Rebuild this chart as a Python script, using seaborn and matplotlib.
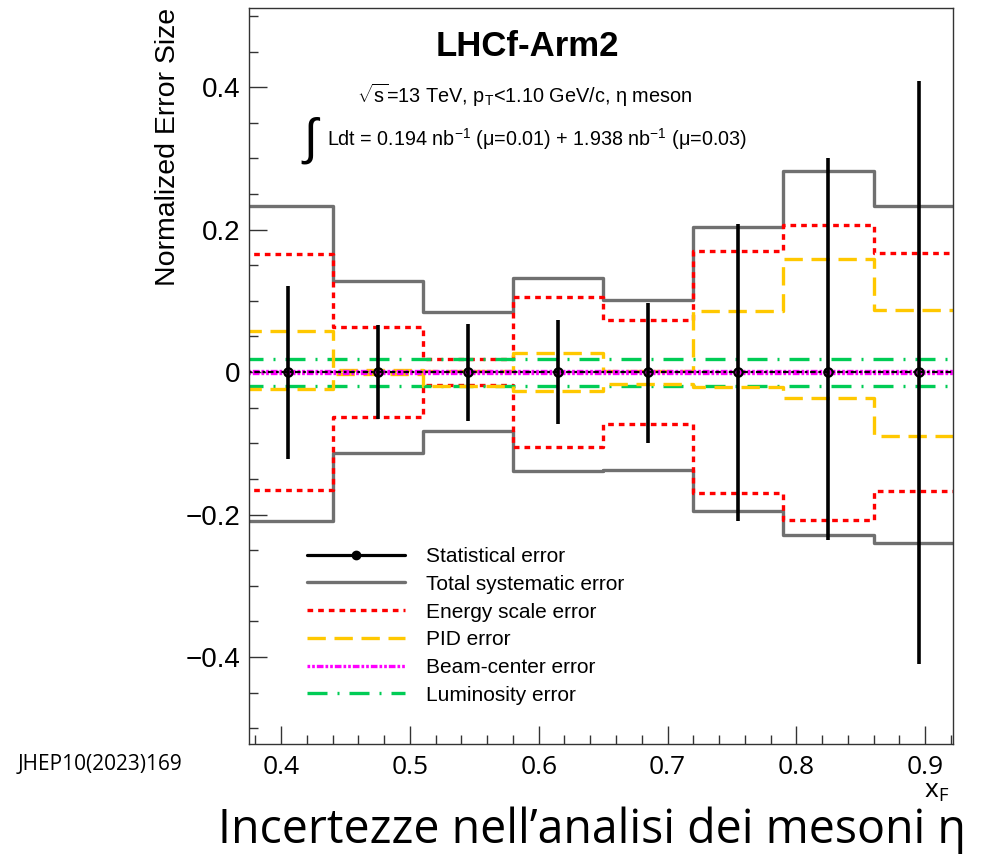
import numpy as np
import pandas as pd
import matplotlib
matplotlib.use("Agg")
import matplotlib.pyplot as plt
from matplotlib.lines import Line2D
from matplotlib.ticker import FixedLocator, FixedFormatter, MultipleLocator
import seaborn as sns

# ---- data: eta-meson x_F spectrum, normalized uncertainties ----
bin_edges = [0.37, 0.44, 0.51, 0.58, 0.65, 0.72, 0.79, 0.86, 0.93]
xf_centers = [0.405, 0.475, 0.545, 0.615, 0.685, 0.755, 0.825, 0.895]

stat_up = [0.121, 0.066, 0.068, 0.073, 0.097, 0.208, 0.300, 0.408]
stat_down = [0.122, 0.066, 0.068, 0.073, 0.100, 0.209, 0.236, 0.409]

total_sys_up = [0.233, 0.128, 0.084, 0.132, 0.101, 0.204, 0.282, 0.233]
total_sys_down = [-0.209, -0.114, -0.083, -0.139, -0.138, -0.195, -0.229, -0.240]

energy_scale = [0.166, 0.063, 0.018, 0.105, 0.073, 0.170, 0.207, 0.167]

pid_up = [0.058, 0.003, 0.002, 0.027, 0.002, 0.086, 0.159, 0.087]
pid_down = [-0.023, -0.003, -0.019, -0.026, -0.017, -0.021, -0.037, -0.089]

beam_center = [0.001, 0.001, 0.001, 0.001, 0.001, 0.001, 0.001, 0.001]
luminosity = [0.019, 0.019, 0.019, 0.019, 0.019, 0.019, 0.019, 0.019]

xticks = [0.4, 0.5, 0.6, 0.7, 0.8, 0.9]
xtick_labels = ["0.4", "0.5", "0.6", "0.7", "0.8", "0.9"]
yticks = [-0.4, -0.2, 0.0, 0.2, 0.4]
ytick_labels = ["\u22120.4", "\u22120.2", "0", "0.2", "0.4"]

legend_labels = ["Statistical error", "Total systematic error", "Energy scale error",
                 "PID error", "Beam-center error", "Luminosity error"]

# ---- style ----
sns.set_theme(style="ticks")
plt.rcParams["font.family"] = ["Liberation Sans", "DejaVu Sans"]
plt.rcParams["mathtext.fontset"] = "custom"
plt.rcParams["mathtext.rm"] = "Liberation Sans"
plt.rcParams["mathtext.it"] = "Liberation Sans:italic"
plt.rcParams["mathtext.bf"] = "Liberation Sans:bold"
plt.rcParams["text.color"] = "black"
plt.rcParams["axes.labelcolor"] = "black"
plt.rcParams["xtick.color"] = "black"
plt.rcParams["ytick.color"] = "black"

GRAY = "#707070"
RED = "#ff0000"
GOLD = "#ffc800"
MAGENTA = "#ff00ff"
GREEN = "#00cc55"
LW = 2.4

fig = plt.figure(figsize=(10, 8.56), dpi=100)
ax = fig.add_axes([0.249, 0.1308, 0.704, 0.8598])


def step_frame(values):
    """Histogram-style outline: one y per bin edge (last bin repeated)."""
    return pd.DataFrame({"x": bin_edges, "y": list(values) + [values[-1]]})


def draw_step(values, **kw):
    d = step_frame(values)
    sns.lineplot(data=d, x="x", y="y", ax=ax, drawstyle="steps-post",
                 estimator=None, sort=False, legend=False, **kw)


# total systematic
draw_step(total_sys_up, color=GRAY, lw=LW)
draw_step(total_sys_down, color=GRAY, lw=LW)

# energy scale (symmetric)
red_ls = (0, (1.7, 1.5))
draw_step(energy_scale, color=RED, lw=LW, linestyle=red_ls)
draw_step([-v for v in energy_scale], color=RED, lw=LW, linestyle=red_ls)

# luminosity
green_ls = (0, (6.0, 3.0, 0.6, 3.0))
draw_step(luminosity, color=GREEN, lw=LW, linestyle=green_ls)
draw_step([-v for v in luminosity], color=GREEN, lw=LW, linestyle=green_ls)

# PID
gold_ls = (0, (5.5, 2.6))
draw_step(pid_up, color=GOLD, lw=LW, linestyle=gold_ls)
draw_step(pid_down, color=GOLD, lw=LW, linestyle=gold_ls)

# reference line at zero under the beam-center band
ax.axhline(0, color="black", lw=1.6, linestyle=(0, (1.2, 1.2, 2.5, 1.2)), zorder=2.5)

# beam-center
mag_ls = (0, (0.8, 0.6, 0.8, 0.6, 2.0, 0.6))
draw_step(beam_center, color=MAGENTA, lw=LW, linestyle=mag_ls)
draw_step([-v for v in beam_center], color=MAGENTA, lw=LW, linestyle=mag_ls)

# statistical error bars
ax.errorbar(xf_centers, np.zeros(len(xf_centers)), yerr=[stat_down, stat_up],
            fmt="o", color="black", ms=6, mfc="none", mec="black", mew=1.6,
            elinewidth=2.6, capsize=0, zorder=5)

# ---- axes ----
ax.set_xlim(0.375, 0.9217)
ax.set_ylim(-0.522, 0.511)
ax.xaxis.set_major_locator(FixedLocator(xticks))
ax.xaxis.set_major_formatter(FixedFormatter(xtick_labels))
ax.xaxis.set_minor_locator(MultipleLocator(0.02))
ax.yaxis.set_major_locator(FixedLocator(yticks))
ax.yaxis.set_major_formatter(FixedFormatter(ytick_labels))
ax.yaxis.set_minor_locator(MultipleLocator(0.05))

for s in ax.spines.values():
    s.set_visible(True)
    s.set_color("#333333")
    s.set_linewidth(1.0)

ax.tick_params(axis="both", which="both", direction="in", color="#333333", width=1.0,
               bottom=True, left=True, top=False, right=False)
ax.tick_params(axis="both", which="major", length=13)
ax.tick_params(axis="both", which="minor", length=6.5)
ax.tick_params(axis="y", which="major", labelsize=20, pad=6)
ax.tick_params(axis="x", which="major", labelsize=19, pad=8)
for lab in ax.get_xticklabels():
    lab.set_fontfamily(["Open Sans", "DejaVu Sans"])

ax.set_xlabel("")
ax.set_ylabel("Normalized Error Size", fontsize=20.5, labelpad=0)
ax.yaxis.set_label_coords(-0.097, 1.0)
ax.yaxis.label.set_horizontalalignment("right")

# x label
fig.text(0.937, 1 - 792 / 856, r"$\mathregular{x_F}$", fontsize=19,
         family=["Open Sans", "DejaVu Sans"], ha="center", va="center")

# ---- annotations ----
fig.text(0.527, 1 - 47 / 856, "LHCf-Arm2", fontsize=25, fontweight="bold",
         ha="center", va="center")
fig.text(0.357, 1 - 95 / 856,
         r"$\sqrt{\mathrm{s}}$=13 TeV, p$_{\mathrm{T}}$<1.10 GeV/c, η meson",
         fontsize=14.3, ha="left", va="center")
fig.text(0.310, 1 - 140 / 856, "\u222b", fontsize=36, ha="center", va="center")
fig.text(0.327, 1 - 139 / 856,
         r"Ldt = 0.194 nb$^{\mathrm{-1}}$ (μ=0.01) + 1.938 nb$^{\mathrm{-1}}$ (μ=0.03)",
         fontsize=14.2, ha="left", va="center")

# ---- legend ----
handles = [
    Line2D([], [], color="black", lw=2.3, marker="o", ms=6, mfc="black", mec="black"),
    Line2D([], [], color=GRAY, lw=LW),
    Line2D([], [], color=RED, lw=LW, linestyle=red_ls),
    Line2D([], [], color=GOLD, lw=LW, linestyle=gold_ls),
    Line2D([], [], color=MAGENTA, lw=LW, linestyle=mag_ls),
    Line2D([], [], color=GREEN, lw=LW, linestyle=green_ls),
]
fig.legend(handles, legend_labels, loc="upper left",
           bbox_to_anchor=(0.307, 1 - 547 / 856), frameon=False, fontsize=15,
           handlelength=4.7, handletextpad=1.0, labelspacing=0.42, borderpad=0,
           borderaxespad=0, numpoints=1)

# ---- page text ----
fig.text(0.018, 1 - 765 / 856, "JHEP10(2023)169", fontsize=15,
         family=["Open Sans", "DejaVu Sans"], ha="left", va="center")
fig.text(0.218, 1 - 830 / 856, "Incertezze nell\u2019analisi dei mesoni η", fontsize=33.5,
         family=["Open Sans", "DejaVu Sans"], ha="left", va="center")

fig.savefig("out.png", dpi=100)
